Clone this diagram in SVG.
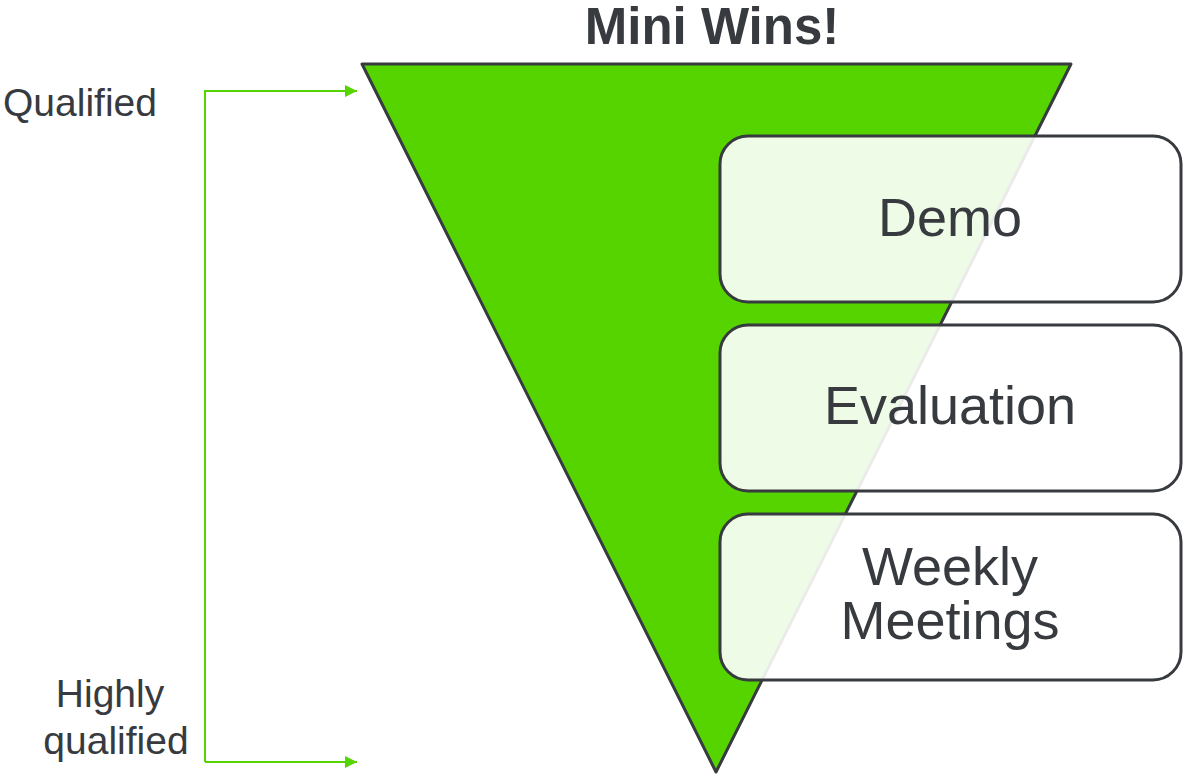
<svg xmlns="http://www.w3.org/2000/svg" width="1183" height="776" viewBox="0 0 1183 776">
<defs>
<style>
.t{font-family:"Liberation Sans",Arial,sans-serif;fill:#373a3e}
.box{fill:#ffffff;fill-opacity:0.9;stroke:#373a3e;stroke-width:3}
.lbl{font-size:54px;text-anchor:middle}
.side{font-size:39px}
.con{stroke:#55d400;stroke-width:2;fill:none}
</style>
<marker id="ah" viewBox="0 0 10 10" refX="10" refY="5" markerWidth="12" markerHeight="12" markerUnits="userSpaceOnUse" orient="auto"><path d="M0,0 L10,5 L0,10 z" fill="#55d400"/></marker>
</defs>
<rect width="1183" height="776" fill="#ffffff"/>
<text class="t" x="712" y="44" font-size="51" font-weight="bold" text-anchor="middle">Mini Wins!</text>
<g id="funnel"><path d="M362,64 L1071,64 L716,772 Z" fill="#55d400" stroke="#373a3e" stroke-width="3" stroke-linejoin="round"/></g>
<g id="connectors">
<path class="con" d="M205,762 L205,91 L357,91" marker-end="url(#ah)"/>
<path class="con" d="M205,762 L357,762" marker-end="url(#ah)"/>
</g>
<g id="qualified"><text class="t side" x="3" y="116">Qualified</text></g>
<g id="highly"><text class="t side" x="110" y="707" text-anchor="middle">Highly</text><text class="t side" x="116" y="754" font-size="38" text-anchor="middle">qualified</text></g>
<g id="demo"><rect class="box" x="720" y="136" width="461" height="166" rx="28"/><text class="t lbl" x="950" y="236">Demo</text></g>
<g id="evaluation"><rect class="box" x="720" y="325" width="461" height="166" rx="28"/><text class="t lbl" x="950" y="424">Evaluation</text></g>
<g id="weekly"><rect class="box" x="720" y="514" width="461" height="166" rx="28"/><text class="t lbl" x="950" y="585">Weekly</text><text class="t lbl" x="950" y="639">Meetings</text></g>
</svg>
